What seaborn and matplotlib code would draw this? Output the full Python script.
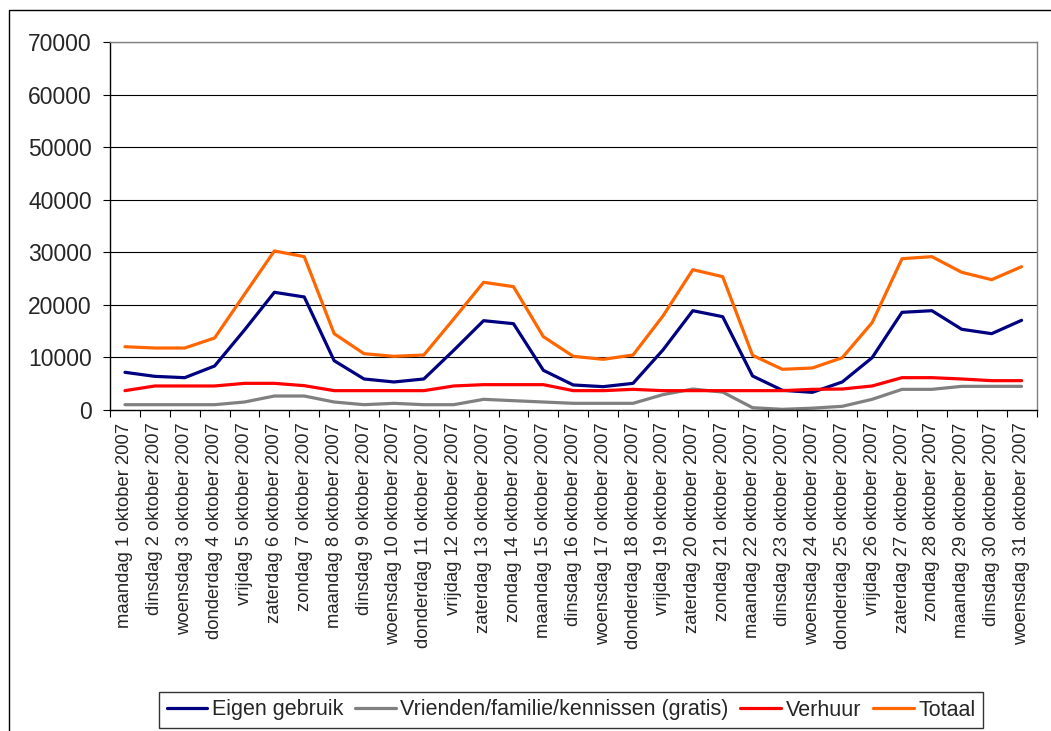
import matplotlib
matplotlib.use("Agg")
import matplotlib.pyplot as plt
import seaborn as sns
import pandas as pd
import numpy as np
from matplotlib.patches import Rectangle
from matplotlib.lines import Line2D
from matplotlib.ticker import FixedLocator, NullFormatter, FixedFormatter

days = ["maandag 1 oktober 2007", "dinsdag 2 oktober 2007", "woensdag 3 oktober 2007",
        "donderdag 4 oktober 2007", "vrijdag 5 oktober 2007", "zaterdag 6 oktober 2007",
        "zondag 7 oktober 2007", "maandag 8 oktober 2007", "dinsdag 9 oktober 2007",
        "woensdag 10 oktober 2007", "donderdag 11 oktober 2007", "vrijdag 12 oktober 2007",
        "zaterdag 13 oktober 2007", "zondag 14 oktober 2007", "maandag 15 oktober 2007",
        "dinsdag 16 oktober 2007", "woensdag 17 oktober 2007", "donderdag 18 oktober 2007",
        "vrijdag 19 oktober 2007", "zaterdag 20 oktober 2007", "zondag 21 oktober 2007",
        "maandag 22 oktober 2007", "dinsdag 23 oktober 2007", "woensdag 24 oktober 2007",
        "donderdag 25 oktober 2007", "vrijdag 26 oktober 2007", "zaterdag 27 oktober 2007",
        "zondag 28 oktober 2007", "maandag 29 oktober 2007", "dinsdag 30 oktober 2007",
        "woensdag 31 oktober 2007"]

eigen = [7170, 6400, 6150, 8370, 15220, 22390, 21500, 9380, 5900, 5330, 5900,
         11350, 16990, 16420, 7550, 4760, 4440, 5070, 11410, 18890, 17750,
         6470, 3740, 3360, 5330, 9950, 18580, 18890, 15350, 14520, 17060]
vrienden = [1010, 1010, 1010, 1010, 1520, 2660, 2660, 1520, 1010, 1270, 1010,
            1010, 2030, 1770, 1520, 1270, 1270, 1270, 2920, 3990, 3400,
            440, 130, 350, 700, 2030, 3930, 3930, 4500, 4500, 4500]
verhuur = [3680, 4570, 4570, 4570, 5070, 5070, 4630, 3680, 3680, 3680, 3680,
           4570, 4820, 4820, 4820, 3680, 3680, 3930, 3680, 3680, 3680,
           3680, 3680, 3930, 3990, 4570, 6150, 6150, 5900, 5580, 5580]
totaal = [12040, 11790, 11790, 13700, 22000, 30250, 29170, 14520, 10710, 10210, 10460,
          17310, 24290, 23460, 13950, 10210, 9640, 10460, 17880, 26690, 25360,
          10400, 7740, 7990, 9950, 16610, 28780, 29170, 26190, 24790, 27260]

series_names = ["Eigen gebruik", "Vrienden/familie/kennissen (gratis)", "Verhuur", "Totaal"]
series_vals = [eigen, vrienden, verhuur, totaal]
colors = ["#000080", "#808080", "#FF0000", "#FF6600"]
yticks = [0, 10000, 20000, 30000, 40000, 50000, 60000, 70000]

rows = []
for name, vals in zip(series_names, series_vals):
    for i, v in enumerate(vals):
        rows.append({"idx": i, "value": v, "serie": name})
df = pd.DataFrame(rows)

sns.set_style("white")
plt.rcParams["font.family"] = ["Liberation Sans", "DejaVu Sans"]

fig = plt.figure(figsize=(10.51, 7.31), dpi=100)
W, H = 1051, 731
ax = fig.add_axes([110 / W, 1 - 410 / H, (1036.5 - 110) / W, (410 - 42) / H])

sns.lineplot(data=df, x="idx", y="value", hue="serie", hue_order=series_names,
             palette=colors, linewidth=2.3, ax=ax, legend=False, sort=False)

n = len(days)
ax.set_xlim(-0.5, n - 0.5)
ax.set_ylim(0, 70000)
ax.set_yticks(yticks)
ax.set_yticklabels([str(t) for t in yticks], fontsize=16.5)
ax.xaxis.set_major_locator(FixedLocator(np.arange(-0.5, n, 1.0)))
ax.xaxis.set_major_formatter(NullFormatter())
ax.xaxis.set_minor_locator(FixedLocator(np.arange(n)))
ax.xaxis.set_minor_formatter(FixedFormatter(days))
ax.tick_params(axis="x", which="major", length=5, width=0.8, color="black", direction="out", bottom=True)
ax.tick_params(axis="x", which="minor", length=0, pad=9, labelsize=13.3, labelrotation=90)
ax.tick_params(axis="y", length=5, width=0.8, color="black", direction="out", left=True, pad=8)
ax.set_xlabel("")
ax.set_ylabel("")

ax.grid(False)
for t in yticks[1:]:
    ax.axhline(t, color="black", linewidth=0.8, zorder=0)

for side in ["left", "bottom"]:
    ax.spines[side].set_color("black")
    ax.spines[side].set_linewidth(1.0)
for side in ["right", "top"]:
    ax.spines[side].set_visible(True)
    ax.spines[side].set_color("#808080")
    ax.spines[side].set_linewidth(1.0)

handles = [Line2D([0], [0], color=c, linewidth=2.3) for c in colors]
leg = fig.legend(handles, series_names, loc="center", bbox_to_anchor=(571 / W, 1 - 710 / H),
                 ncol=4, frameon=True, fontsize=15.5, handlelength=1.9, handletextpad=0.2,
                 columnspacing=0.55, borderpad=0.35, borderaxespad=0, fancybox=False)
leg.get_frame().set_edgecolor("black")
leg.get_frame().set_linewidth(1.0)

fig.patches.append(Rectangle((8.5 / W, -0.2), 1.5, 1.2 - 10 / H, transform=fig.transFigure,
                             fill=False, edgecolor="black", linewidth=1.0))

fig.savefig("out.png", dpi=100)
